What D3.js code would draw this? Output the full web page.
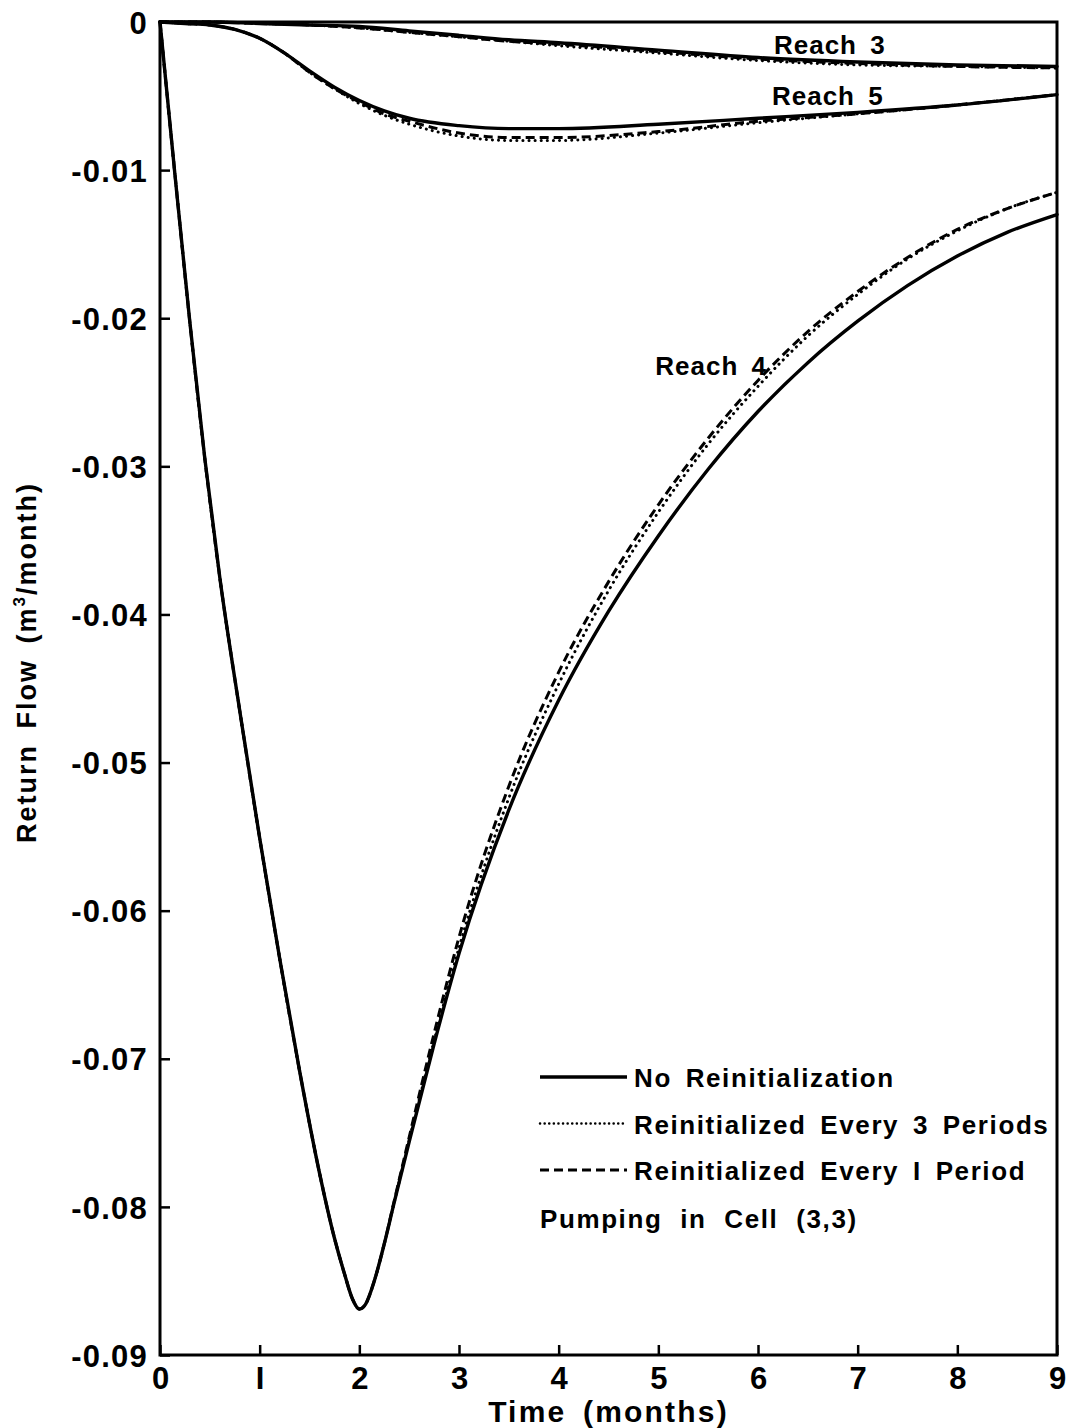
<!DOCTYPE html>
<html>
<head>
<meta charset="utf-8">
<script src="https://cdn.jsdelivr.net/npm/d3@7/dist/d3.min.js"></script>
<style>
  html, body { margin: 0; padding: 0; background: #fff; }
  svg { display: block; }
  text { font-family: "Liberation Sans", Arial, sans-serif; font-weight: bold; fill: #000; }
</style>
</head>
<body>
<svg id="chart" width="1069" height="1428"></svg>
<script>
// ---- data ----
const xTicks = [0, 1, 2, 3, 4, 5, 6, 7, 8, 9];
const yTicks = [0, -0.01, -0.02, -0.03, -0.04, -0.05, -0.06, -0.07, -0.08, -0.09];

// Reach 4
const t4 = [0, 0.15, 0.3, 0.45, 0.6, 0.8, 1.0, 1.2, 1.4, 1.6, 1.75, 1.85, 1.93, 2.0, 2.06, 2.15, 2.25, 2.35, 2.5, 2.75, 3.0, 3.5, 4.0, 4.5, 5.0, 5.5, 6.0, 6.5, 7.0, 7.5, 8.0, 8.5, 9.0];
const r4Solid  = [0, -0.0103, -0.0203, -0.0295, -0.0375, -0.0465, -0.0551, -0.0632, -0.0708, -0.0777, -0.0821, -0.0845, -0.0862, -0.0869, -0.0866, -0.0850, -0.0825, -0.0797, -0.0756, -0.0690, -0.0629, -0.0532, -0.0458, -0.0398, -0.0347, -0.0302, -0.0263, -0.0230, -0.0202, -0.0178, -0.0158, -0.0142, -0.0130];
const r4Dotted = [0, -0.0103, -0.0203, -0.0295, -0.0375, -0.0465, -0.0551, -0.0632, -0.0708, -0.0777, -0.0821, -0.0845, -0.0862, -0.0869, -0.0866, -0.0850, -0.0825, -0.0797, -0.0755, -0.0688, -0.0625, -0.0524, -0.0447, -0.0384, -0.0331, -0.0285, -0.0246, -0.0212, -0.0184, -0.0160, -0.0141, -0.0126, -0.0115];
const r4Dashed = [0, -0.0103, -0.0203, -0.0295, -0.0375, -0.0465, -0.0551, -0.0632, -0.0708, -0.0777, -0.0821, -0.0845, -0.0862, -0.0869, -0.0866, -0.0850, -0.0825, -0.0796, -0.0753, -0.0683, -0.0618, -0.0516, -0.0439, -0.0378, -0.0326, -0.0281, -0.0242, -0.0209, -0.0182, -0.0159, -0.0140, -0.0126, -0.0115];

// Reach 5
const t5 = [0, 0.25, 0.5, 0.75, 1.0, 1.25, 1.5, 1.75, 2.0, 2.25, 2.5, 3.0, 3.5, 4.0, 5.0, 6.0, 7.0, 8.0, 9.0];
const r5Solid  = [0, -0.0001, -0.0002, -0.0005, -0.0011, -0.0021, -0.0033, -0.0044, -0.0053, -0.0060, -0.0065, -0.0070, -0.0072, -0.0072, -0.0069, -0.0065, -0.0061, -0.0056, -0.0049];
const r5Dotted = [0, -0.0001, -0.0002, -0.0005, -0.0011, -0.0021, -0.0034, -0.0045, -0.0055, -0.0063, -0.0069, -0.0077, -0.0080, -0.0080, -0.0075, -0.0068, -0.0062, -0.0056, -0.0049];
const r5Dashed = [0, -0.0001, -0.0002, -0.0005, -0.0011, -0.0021, -0.0034, -0.0045, -0.0054, -0.0062, -0.0067, -0.0075, -0.0078, -0.0078, -0.0074, -0.0067, -0.0062, -0.0056, -0.0049];

// Reach 3
const t3 = [0, 0.5, 1, 1.5, 2, 2.5, 3, 3.5, 4, 5, 6, 7, 8, 9];
const r3Solid  = [0, 0, -0.0001, -0.0002, -0.0003, -0.0006, -0.0009, -0.0012, -0.0014, -0.0019, -0.0024, -0.0027, -0.0029, -0.0030];
const r3Dotted = [0, 0, -0.0001, -0.0002, -0.0004, -0.0007, -0.0010, -0.0013, -0.0016, -0.0021, -0.0026, -0.0029, -0.0030, -0.0031];
const r3Dashed = [0, 0, -0.0001, -0.0002, -0.0004, -0.0007, -0.0010, -0.0013, -0.0015, -0.0020, -0.0025, -0.0028, -0.0030, -0.0031];

const legendLabels = ["No Reinitialization", "Reinitialized Every 3 Periods", "Reinitialized Every I Period"];
const noteText = "Pumping in Cell (3,3)";
const reachLabels = [
  {text: "Reach 3", t: 6.16, v: -0.00216},
  {text: "Reach 5", t: 6.14, v: -0.0056},
  {text: "Reach 4", t: 4.97, v: -0.0238}
];

// ---- drawing ----
const svg = d3.select("#chart");
const x = d3.scaleLinear().domain([0, 9]).range([160, 1057]);
const y = d3.scaleLinear().domain([-0.09, 0]).range([1355, 22]);

const styles = {
  solid:  {w: 3.4, dash: null, cap: "round"},
  dotted: {w: 3.0, dash: "0.1 6", cap: "round"},
  dashed: {w: 3.0, dash: "9 5", cap: "butt"}
};

const line = d3.line().x(d => x(d[0])).y(d => y(d[1])).curve(d3.curveMonotoneX);

function series(ts, vs, style) {
  const pts = ts.map((t, i) => [t, vs[i]]);
  const st = styles[style];
  svg.append("path")
    .attr("d", line(pts))
    .attr("fill", "none")
    .attr("stroke", "#000")
    .attr("stroke-width", st.w)
    .attr("stroke-linecap", st.cap)
    .attr("stroke-linejoin", "round")
    .attr("stroke-dasharray", st.dash);
}

// draw dashed, dotted, solid
series(t4, r4Dashed, "dashed");
series(t4, r4Dotted, "dotted");
series(t5, r5Dashed, "dashed");
series(t5, r5Dotted, "dotted");
series(t3, r3Dashed, "dashed");
series(t3, r3Dotted, "dotted");
series(t4, r4Solid, "solid");
series(t5, r5Solid, "solid");
series(t3, r3Solid, "solid");

// axes
const yAxis = d3.axisLeft(y).tickValues(yTicks).tickSize(-10).tickPadding(12)
  .tickFormat(d => d === 0 ? "0" : "-" + Math.abs(d).toFixed(2));
const gy = svg.append("g").attr("transform", `translate(${x(0)},0)`).call(yAxis);
gy.select(".domain").remove();
gy.selectAll(".tick line").attr("stroke", "#000").attr("stroke-width", 2.5);
gy.selectAll(".tick text").attr("font-size", 31).attr("font-family", "Liberation Sans, Arial, sans-serif")
  .attr("font-weight", "bold").attr("dy", "0.36em").attr("letter-spacing", 1.2);

const xAxis = d3.axisBottom(x).tickValues(xTicks).tickSize(-10).tickPadding(12)
  .tickFormat(d => d === 1 ? "I" : String(d));
const gx = svg.append("g").attr("transform", `translate(0,${y(-0.09)})`).call(xAxis);
gx.select(".domain").remove();
gx.selectAll(".tick line").attr("stroke", "#000").attr("stroke-width", 2.5);
gx.selectAll(".tick text").attr("font-size", 31).attr("font-family", "Liberation Sans, Arial, sans-serif")
  .attr("font-weight", "bold").attr("dy", "0.72em");

// frame
svg.append("rect")
  .attr("x", x(0)).attr("y", y(0))
  .attr("width", x(9) - x(0)).attr("height", y(-0.09) - y(0))
  .attr("fill", "none").attr("stroke", "#000").attr("stroke-width", 3);

// axis titles
svg.append("text")
  .attr("x", (x(0) + x(9)) / 2 + 0).attr("y", 1422)
  .attr("text-anchor", "middle").attr("font-size", 30).attr("letter-spacing", 2.2)
  .attr("word-spacing", 6)
  .text("Time (months)");

const yt = svg.append("text")
  .attr("transform", `translate(36,${(y(0) + y(-0.09)) / 2 - 26}) rotate(-90)`)
  .attr("text-anchor", "middle").attr("font-size", 27).attr("letter-spacing", 2)
  .attr("word-spacing", 6);
yt.append("tspan").text("Return Flow (m");
yt.append("tspan").attr("font-size", 17).attr("dy", -11).text("3");
yt.append("tspan").attr("dy", 11).text("/month)");

// reach labels
svg.selectAll(".reach").data(reachLabels).enter().append("text")
  .attr("class", "reach")
  .attr("x", d => x(d.t)).attr("y", d => y(d.v))
  .attr("font-size", 26).attr("letter-spacing", 1.0).attr("word-spacing", 5)
  .text(d => d.text);

// legend
const legX0 = 540, legX1 = 627, legY0 = 1077, legDy = 46.5;
const legStyles = ["solid", "dotted", "dashed"];
legStyles.forEach((s, i) => {
  const st = styles[s];
  const yy = legY0 + i * legDy;
  svg.append("line")
    .attr("x1", legX0).attr("x2", legX1).attr("y1", yy).attr("y2", yy)
    .attr("stroke", "#000").attr("stroke-width", s === "dotted" ? 2.5 : st.w)
    .attr("stroke-linecap", s === "dotted" ? "round" : "butt")
    .attr("stroke-dasharray", s === "dotted" ? "0.1 4.5" : st.dash);
  svg.append("text")
    .attr("x", 634).attr("y", yy + 10)
    .attr("font-size", 26).attr("letter-spacing", 1.6).attr("word-spacing", 5)
    .text(legendLabels[i]);
});
svg.append("text")
  .attr("x", 540).attr("y", legY0 + 3 * legDy + 11)
  .attr("font-size", 26).attr("letter-spacing", 1.6).attr("word-spacing", 9)
  .text(noteText);
</script>
</body>
</html>
